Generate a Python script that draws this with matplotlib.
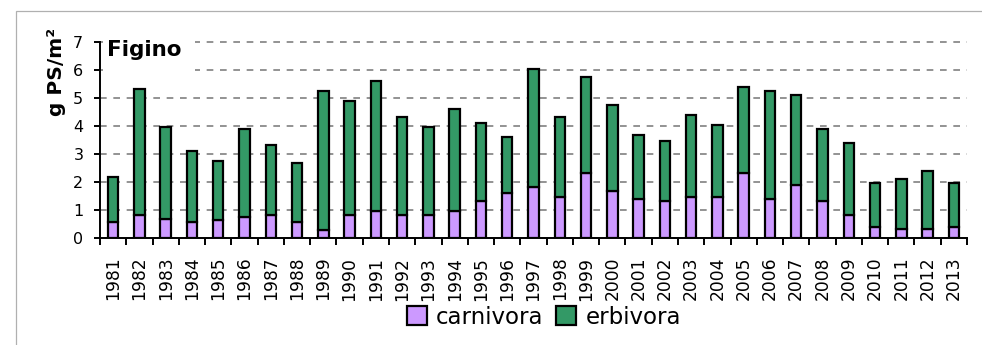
import matplotlib
matplotlib.use("Agg")
import matplotlib.pyplot as plt
from matplotlib.patches import Rectangle
import numpy as np

# Figino: annual biomass (g PS/m²) split into carnivora and erbivora
years = [str(y) for y in range(1981, 2014)]
carnivora = [0.56, 0.82, 0.68, 0.56, 0.63, 0.76, 0.82, 0.56, 0.29, 0.82,
             0.98, 0.82, 0.82, 0.98, 1.33, 1.62, 1.82, 1.48, 2.33, 1.69,
             1.40, 1.33, 1.48, 1.48, 2.33, 1.40, 1.90, 1.33, 0.82, 0.39,
             0.33, 0.33, 0.39]
erbivora = [1.63, 4.49, 3.30, 2.56, 2.13, 3.14, 2.50, 2.13, 4.97, 4.08,
            4.64, 3.50, 3.16, 3.63, 2.78, 2.00, 4.22, 2.84, 3.41, 3.06,
            2.29, 2.15, 2.91, 2.56, 3.06, 3.86, 3.21, 2.57, 2.58, 1.59,
            1.79, 2.07, 1.59]
yticks = [0, 1, 2, 3, 4, 5, 6, 7]

plt.rcParams['font.family'] = ['DejaVu Sans']
plt.rcParams['lines.scale_dashes'] = False

W, H = 982, 345
fig = plt.figure(figsize=(W / 100, H / 100), dpi=100)
fig.patch.set_facecolor('white')

# light frame around the chart area
fig.patches.append(Rectangle((16 / W, -0.2), 1.2, 1.2 - 11 / H,
                             transform=fig.transFigure, fill=False,
                             edgecolor='#B0B0B0', linewidth=0.9))

ax = fig.add_axes([100 / W, (H - 238) / H, 867 / W, 196 / H])
x = np.arange(len(years))

ax.bar(x, carnivora, width=0.40, color='#CC99FF', edgecolor='black',
       linewidth=1.6, label='carnivora', zorder=3)
ax.bar(x, erbivora, width=0.40, bottom=carnivora, color='#339966',
       edgecolor='black', linewidth=1.6, label='erbivora', zorder=3)

ax.set_xlim(-0.5, len(years) - 0.5)
ax.set_ylim(0, 7)

# dashed horizontal gridlines
ax.set_yticks(yticks)
ax.yaxis.grid(True, color='#808080', linewidth=1.2,
              linestyle=(0, (4.8, 4.8)), zorder=1)
ax.xaxis.grid(False)
for g in ax.yaxis.get_gridlines():
    g.set_clip_on(False)

ax.set_xticks(x)
ax.set_xticklabels(years, rotation=90, fontsize=12.3)
ax.set_xticks(np.arange(-0.5, len(years)), minor=True)
ax.tick_params(axis='x', which='major', length=0, pad=13.5)
ax.tick_params(axis='x', which='minor', length=5, width=1.4, direction='out')
ax.tick_params(axis='y', length=4.5, width=1.4, direction='out',
               labelsize=11.5, pad=7.5)

for s in ['top', 'right']:
    ax.spines[s].set_visible(False)
for s in ['left', 'bottom']:
    ax.spines[s].set_linewidth(1.4)
    ax.spines[s].set_zorder(4)

# title box covering the upper gridlines
ax.add_patch(Rectangle((0.003, 0.80), 0.107, 0.22, transform=ax.transAxes,
                       facecolor='white', edgecolor='none', zorder=2,
                       clip_on=False))
ax.text(0.0085, 1.012, 'Figino', transform=ax.transAxes, fontsize=15.5,
        fontweight='bold', ha='left', va='top', zorder=5)

ax.text(-0.0507, 0.845, 'g PS/m²', transform=ax.transAxes, rotation=90,
        fontsize=14.5, fontweight='bold', ha='center', va='center')

leg = ax.legend(loc='center', bbox_to_anchor=((544 - 100) / 867, -(317 - 238) / 196),
                ncol=2, frameon=False, fontsize=16.5, handlelength=0.87,
                handleheight=0.87, handletextpad=0.4, columnspacing=0.55,
                borderpad=0, borderaxespad=0)

fig.savefig('out.png', dpi=100, facecolor='white')
